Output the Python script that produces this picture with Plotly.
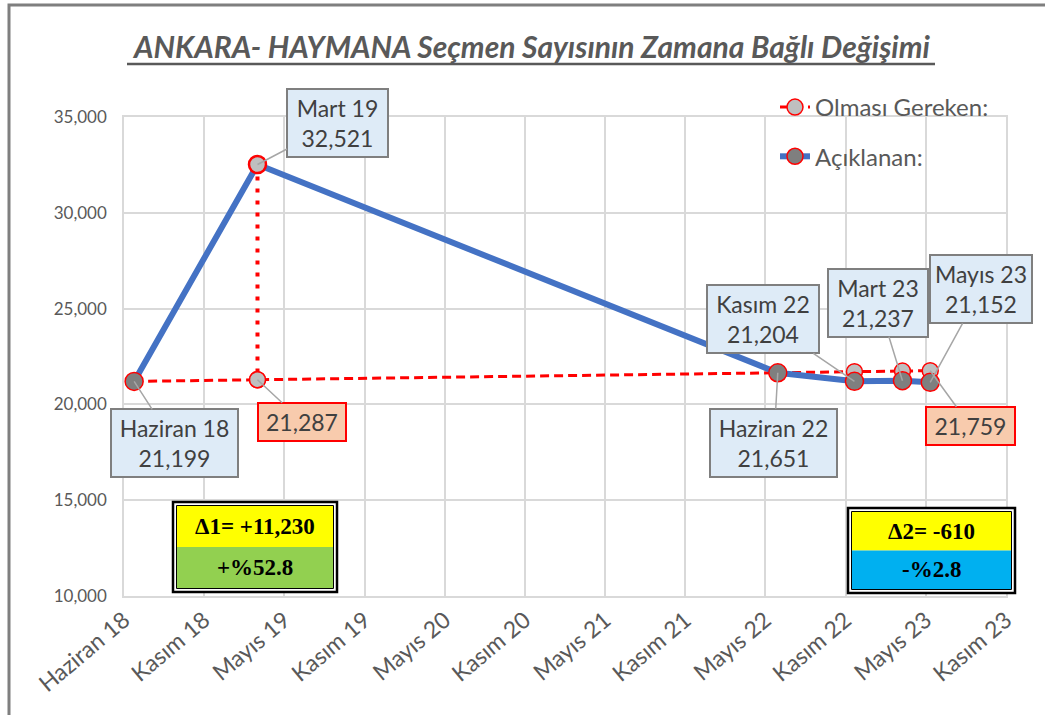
import plotly.graph_objects as go

# ---------------- data ----------------
dates = ["2018-06-24", "2019-03-31", "2022-06-24", "2022-12-15", "2023-04-03", "2023-06-05"]
period_names = ["Haziran 18", "Mart 19", "Haziran 22", "Kasım 22", "Mart 23", "Mayıs 23"]
aciklanan = [21199, 32521, 21651, 21204, 21237, 21152]          # Açıklanan (announced)
olmasi_gereken = [21199, 21287, 21651, 21706, 21739, 21759]     # Olması Gereken (expected)

tick_dates = ["2018-06-01", "2018-11-30", "2019-05-31", "2019-11-29", "2020-05-29", "2020-11-27",
              "2021-05-28", "2021-11-26", "2022-05-27", "2022-11-25", "2023-05-26", "2023-11-24"]
tick_labels = ["Haziran 18", "Kasım 18", "Mayıs 19", "Kasım 19", "Mayıs 20", "Kasım 20",
               "Mayıs 21", "Kasım 21", "Mayıs 22", "Kasım 22", "Mayıs 23", "Kasım 23"]

title_text = "ANKARA- HAYMANA Seçmen Sayısının Zamana Bağlı Değişimi"
delta1_text = ["Δ1= +11,230", "+%52.8"]
delta2_text = ["Δ2= -610", "-%2.8"]

# ---------------- layout helpers ----------------
W, H = 1045, 715
L, R, T, B = 124, 39, 117, 119
PW, PH = W - L - R, H - T - B


def px(x):
    return (x - L) / PW


def py(y):
    return (H - B - y) / PH


FONT = "Lato"
GRAY_TXT = "#595959"
LABEL_TXT = "#404040"

fig = go.Figure()

fig.add_trace(go.Scatter(
    x=dates, y=olmasi_gereken, name="Olması Gereken:", mode="lines+markers",
    legendgroup="g1",
    line=dict(color="#FF0000", width=3, dash="9px,5px"),
    marker=dict(size=16, color="#BFBFBF", line=dict(color="#FF0000", width=1.5)),
))
fig.add_trace(go.Scatter(
    x=dates, y=aciklanan, name="Açıklanan:", mode="lines+markers",
    legendgroup="g2",
    line=dict(color="#4472C4", width=6),
    marker=dict(size=18, color="#7F7F7F", line=dict(color="#FF0000", width=1.5)),
))
fig.add_trace(go.Scatter(
    x=[dates[1], dates[1]], y=[aciklanan[1], olmasi_gereken[1]], mode="lines+markers",
    showlegend=False,
    line=dict(color="#FF0000", width=4, dash="4px,8px"),
    marker=dict(size=16, color="#BFBFBF", line=dict(color="#FF0000", width=1.5)),
))

annotations = []

# data labels: (index, series, ax, ay, width, style)
blue_style = dict(bgcolor="#DEEBF7", bordercolor="#7F7F7F")
red_style = dict(bgcolor="#F8CBAD", bordercolor="#FF0000")
label_specs = [
    (0, "a", 40, 62, 117, blue_style),
    (1, "a", 80, -42, 91, blue_style),
    (2, "a", -4, 70, 117, blue_style),
    (3, "a", -91, -62, 102, blue_style),
    (4, "a", -24, -78, 90, blue_style),
    (5, "a", 51, -93, 92, blue_style),
    (1, "o", 45, 42, 78, red_style),
    (5, "o", 40, 55, 79, red_style),
]
for idx, ser, ax, ay, wd, st in label_specs:
    if ser == "a":
        txt = f"{period_names[idx]}<br>{aciklanan[idx]:,}"
        yv = aciklanan[idx]
    else:
        txt = f"{olmasi_gereken[idx]:,}"
        yv = olmasi_gereken[idx]
    annotations.append(dict(
        x=dates[idx], y=yv, xref="x", yref="y", text=txt,
        showarrow=True, arrowhead=0, arrowwidth=1.5, arrowcolor="#A6A6A6",
        ax=ax, ay=ay, standoff=0, width=wd,
        borderwidth=2, borderpad=4,
        font=dict(family=FONT, size=23, color=LABEL_TXT),
        **st,
    ))

# title
annotations.append(dict(
    x=px(531), y=py(46), xref="paper", yref="paper", xanchor="center", yanchor="middle",
    text=f"<b><i>{title_text}</i></b>", showarrow=False,
    font=dict(family=FONT, size=30, color=GRAY_TXT),
))

shapes = []
# title underline
shapes.append(dict(type="line", xref="paper", yref="paper",
                   x0=px(127), x1=px(935), y0=py(64), y1=py(64),
                   line=dict(color=GRAY_TXT, width=2.5)))
# outer chart border
shapes.append(dict(type="rect", xref="paper", yref="paper",
                   x0=px(9), x1=px(1080), y0=py(5), y1=py(760),
                   line=dict(color="#7F7F7F", width=3)))


def delta_box(x0, y0, x1, y1, texts, c_bottom):
    ym = (y0 + y1) / 2
    shapes.append(dict(type="rect", xref="paper", yref="paper",
                       x0=px(x0), x1=px(x1), y0=py(y0), y1=py(y1),
                       fillcolor="white", line=dict(color="black", width=2.5)))
    shapes.append(dict(type="rect", xref="paper", yref="paper",
                       x0=px(x0 + 4), x1=px(x1 - 4), y0=py(y0 + 4), y1=py(ym),
                       fillcolor="#FFFF00", line=dict(width=0)))
    shapes.append(dict(type="rect", xref="paper", yref="paper",
                       x0=px(x0 + 4), x1=px(x1 - 4), y0=py(ym), y1=py(y1 - 4),
                       fillcolor=c_bottom, line=dict(width=0)))
    shapes.append(dict(type="rect", xref="paper", yref="paper",
                       x0=px(x0 + 3.5), x1=px(x1 - 3.5), y0=py(y0 + 3.5), y1=py(y1 - 3.5),
                       line=dict(color="black", width=1)))
    cx = (x0 + x1) / 2
    for t, yy in zip(texts, [(y0 + 4 + ym) / 2, (ym + y1 - 4) / 2]):
        annotations.append(dict(
            x=px(cx), y=py(yy), xref="paper", yref="paper", xanchor="center", yanchor="middle",
            text=f"<b>{t}</b>", showarrow=False,
            font=dict(family="Liberation Serif", size=23, color="black"),
        ))


delta_box(173, 502, 337, 592, delta1_text, "#92D050")
delta_box(848, 508, 1015, 593, delta2_text, "#00B0F0")

fig.update_layout(
    width=W, height=H,
    margin=dict(l=L, r=R, t=T, b=B, pad=0),
    paper_bgcolor="white", plot_bgcolor="white",
    font=dict(family=FONT, color=GRAY_TXT),
    showlegend=True,
    legend=dict(x=px(775), y=py(85), xanchor="left", yanchor="top",
                font=dict(family=FONT, size=24, color=GRAY_TXT),
                bgcolor="rgba(0,0,0,0)", tracegroupgap=15, borderwidth=0),
    annotations=annotations,
    shapes=shapes,
    xaxis=dict(type="date", range=[tick_dates[0], tick_dates[-1]],
               tickmode="array", tickvals=tick_dates, ticktext=tick_labels,
               tickangle=-40, tickfont=dict(family=FONT, size=23, color=GRAY_TXT),
               showgrid=True, gridcolor="#D9D9D9", gridwidth=1.5,
               showline=True, mirror=True, linecolor="#D9D9D9", linewidth=1.5,
               ticks="", zeroline=False),
    yaxis=dict(range=[10000, 35000], dtick=5000, tick0=10000, tickformat=",d",
               tickfont=dict(family=FONT, size=17, color=GRAY_TXT),
               showgrid=True, gridcolor="#D9D9D9", gridwidth=1.5,
               showline=True, mirror=True, linecolor="#D9D9D9", linewidth=1.5,
               ticks="", zeroline=False, ticklabelstandoff=12),
)

fig.write_html("out.html", config={"displayModeBar": False},
               post_script="document.body.style.margin='0';document.body.style.overflow='hidden';")
